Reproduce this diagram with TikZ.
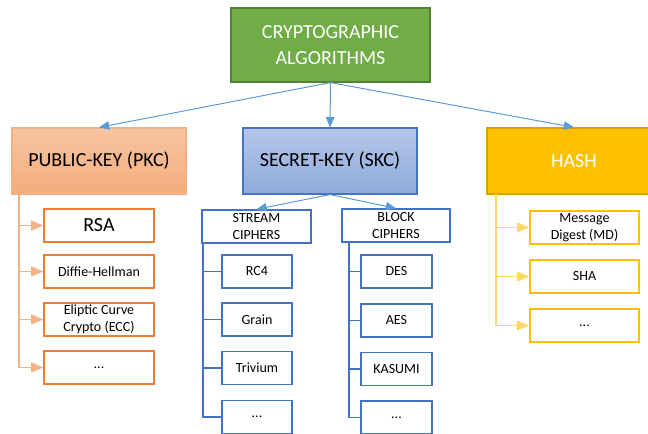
\documentclass[tikz,border=0pt]{standalone}
\usepackage{fontspec}
\setmainfont{Carlito}
\usepackage{tikz}
\usetikzlibrary{arrows}

\definecolor{topgreen}{HTML}{70AD47}
\definecolor{topgreenline}{HTML}{548235}
\definecolor{pkcline}{HTML}{ED7D31}
\definecolor{pkclight}{HTML}{F4B183}
\definecolor{skcline}{HTML}{4472C4}
\definecolor{arrowblue}{HTML}{5B9BD5}
\definecolor{hashgold}{HTML}{FFC000}
\definecolor{hashline}{HTML}{D9A400}
\definecolor{hashlight}{HTML}{FFD966}

\tikzset{
  headbox/.style={draw, line width=0.9pt, inner sep=0pt, align=center,
    minimum width=174*0.75pt, minimum height=66*0.75pt,
    font=\fontsize{15}{19}\selectfont},
  leafbox/.style={draw, line width=1.1pt, fill=white, inner sep=0pt, align=center,
    minimum height=33*0.75pt, font=\fontsize{10.5}{12.5}\selectfont},
}

\begin{document}
\begin{tikzpicture}[x=0.75pt, y=-0.75pt]
\useasboundingbox (0,0) rectangle (648,434);
%%%%% Top row %%%%%
\node[headbox, fill=topgreen, draw=topgreenline, text=white, minimum width=199*0.75pt,
  minimum height=74*0.75pt] (crypto) at (330.5,45) {CRYPTOGRAPHIC\\ALGORITHMS};
\node[headbox, top color=pkclight!75!white, bottom color=pkclight!90!pkcline, draw=pkclight]
  (pkc) at (99,161) {PUBLIC-KEY (PKC)};
\node[headbox, top color=skcline!40!white, bottom color=skcline!60!white, draw=skcline]
  (skc) at (330,161) {SECRET-KEY (SKC)};
\node[headbox, fill=hashgold, draw=hashline, text=white] (hash) at (574,161) {HASH};
\foreach \to in {pkc,skc,hash}{
\draw[-triangle 45, color=arrowblue, line width=0.75pt] (crypto.south) -- (\to.north);
}
%%%%% Public key %%%%%
\coordinate (pkctrunk) at (19,194);
\foreach \name/\y/\txt in {rsa/225.5/{\fontsize{15}{18}\selectfont RSA},
    dh/271.5/Diffie-Hellman, ecc/319.5/{Eliptic Curve\\Crypto (ECC)}, pkcmore/367.5/{...}}{
\node[leafbox, draw=pkcline, minimum width=110*0.75pt] (\name) at (99,\y) {\txt};
\draw[-triangle 45, color=pkclight, line width=1.1pt] (pkctrunk) |- (\name.west);
}
%%%%% Secret key %%%%%
\node[leafbox, draw=skcline, minimum width=109*0.75pt] (stream) at (256.5,226.5) {STREAM\\CIPHERS};
\node[leafbox, draw=skcline, minimum width=108*0.75pt] (block) at (396,225.5) {BLOCK\\CIPHERS};
\draw[-triangle 45, color=arrowblue, line width=0.75pt] (skc.south) -- (stream.north);
\draw[-triangle 45, color=arrowblue, line width=0.75pt] (skc.south) -- (block.north);
\coordinate (streamtrunk) at (203,243);
\coordinate (blocktrunk) at (349,242);
\foreach \name/\y/\txt in {rc4/271.5/RC4, grain/319.5/Grain, trivium/368/Trivium, streammore/417/{...}}{
\node[leafbox, draw=skcline, minimum width=70*0.75pt] (\name) at (257,\y) {\txt};
\draw[color=skcline, line width=1.1pt] (streamtrunk) |- (\name.west);
}
\foreach \name/\y/\txt in {des/271.5/DES, aes/320.5/AES, kasumi/369/KASUMI, blockmore/417.5/{...}}{
\node[leafbox, draw=skcline, minimum width=71*0.75pt] (\name) at (396.5,\y) {\txt};
\draw[color=skcline, line width=1.1pt] (blocktrunk) |- (\name.west);
}
%%%%% Hash %%%%%
\coordinate (hashtrunk) at (496,194);
\foreach \name/\y/\txt in {md/227.5/{Message\\Digest (MD)}, sha/276.5/SHA, hashmore/325.5/{...}}{
\node[leafbox, draw=hashgold, minimum width=109*0.75pt] (\name) at (584.5,\y) {\txt};
\draw[-triangle 45, color=hashlight, line width=1.1pt] (hashtrunk) |- (\name.west);
}
\end{tikzpicture}
\end{document}
